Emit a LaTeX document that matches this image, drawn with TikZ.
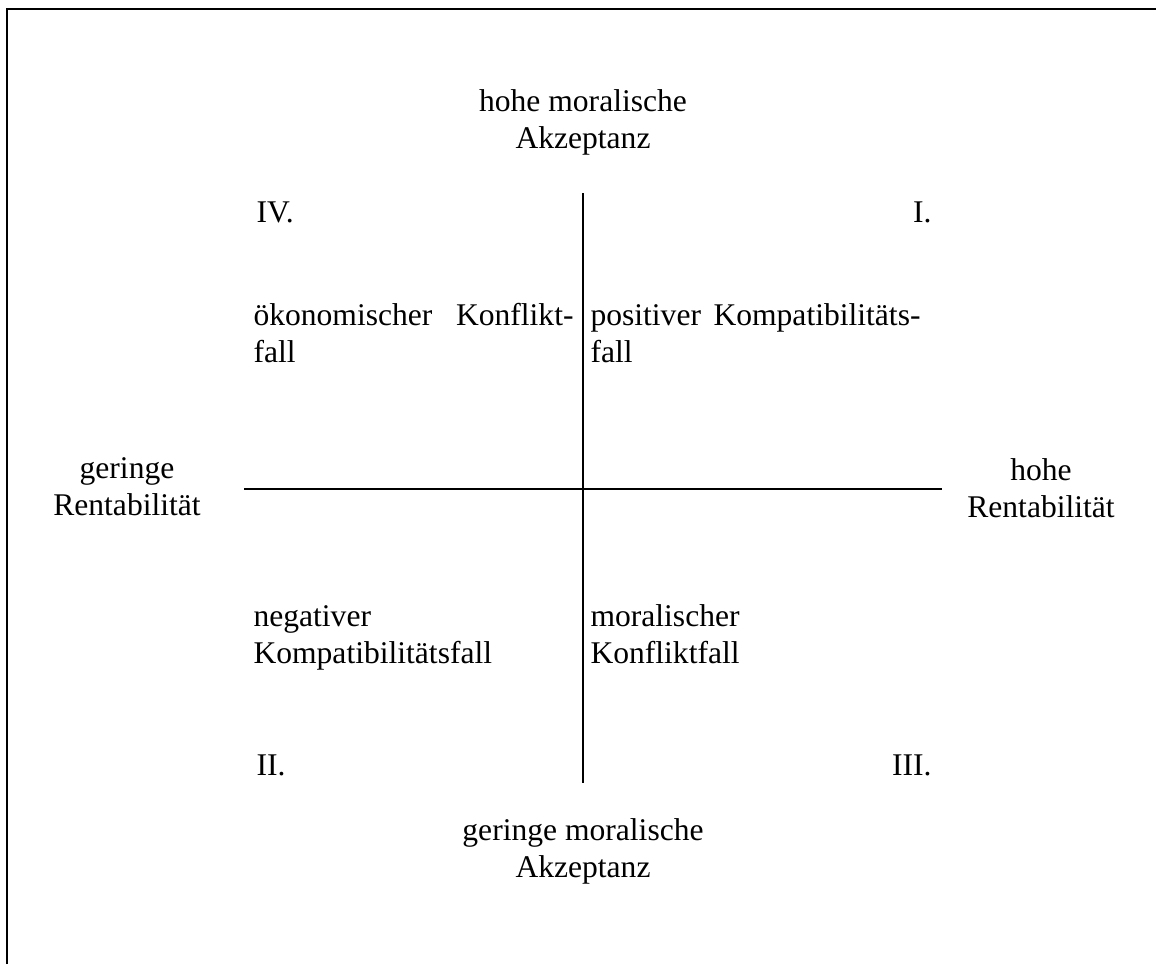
\documentclass[tikz,border=0pt]{standalone}
\usepackage{fontspec}
\setmainfont{Liberation Serif}
\usetikzlibrary{positioning}

\begin{document}
\begin{tikzpicture}[x=0.38pt, y=-0.38pt,
  txt/.style={inner sep=0pt, font=\fontsize{12}{13.9}\selectfont},
  achse/.style={txt, align=center, anchor=base},
  fall/.style={txt, align=left, anchor=base west},
  nr/.style={txt, anchor=base west},
  nrr/.style={txt, anchor=base east},
  linie/.style={line width=0.8pt}]
  \useasboundingbox (0,0) rectangle (1156,964);
  % Rahmen (nur oben und links)
  \draw[linie] (7,964) -- (7,9) -- (1156,9);
  % Achsen
  \coordinate (oben)   at (583,193);
  \coordinate (unten)  at (583,783);
  \coordinate (links)  at (244,489);
  \coordinate (rechts) at (942,489);
  \draw[linie] (oben) -- (unten);
  \draw[linie] (links) -- (rechts);
  % Achsenbeschriftungen (Basis = letzte Zeile)
  \node[achse] (hmA) at (583,148) {hohe moralische\\Akzeptanz};
  \node[achse] (gmA) at (583,877) {geringe moralische\\Akzeptanz};
  \node[achse] (gR)  at (127,515) {geringe\\Rentabilität};
  \node[achse] (hR)  at (1041,517) {hohe\\Rentabilität};
  % Quadranten
  \node[nr]  (q4) at (256,222) {IV.};
  \node[nrr] (q1) at (932,222) {I.};
  \node[nr]  (q2) at (256,775) {II.};
  \node[nrr] (q3) at (932,775) {III.};
  \node[fall] (oekon) at (253,362) {\makebox[121.6pt][s]{ökonomischer Konflikt-}\\fall};
  \node[fall] (pos)   at (590,362) {\makebox[125.4pt][s]{positiver Kompatibilitäts-}\\fall};
  \node[fall] (neg)   at (253,663) {negativer\\Kompatibilitätsfall};
  \node[fall] (moral) at (590,663) {moralischer\\Konfliktfall};
\end{tikzpicture}
\end{document}
